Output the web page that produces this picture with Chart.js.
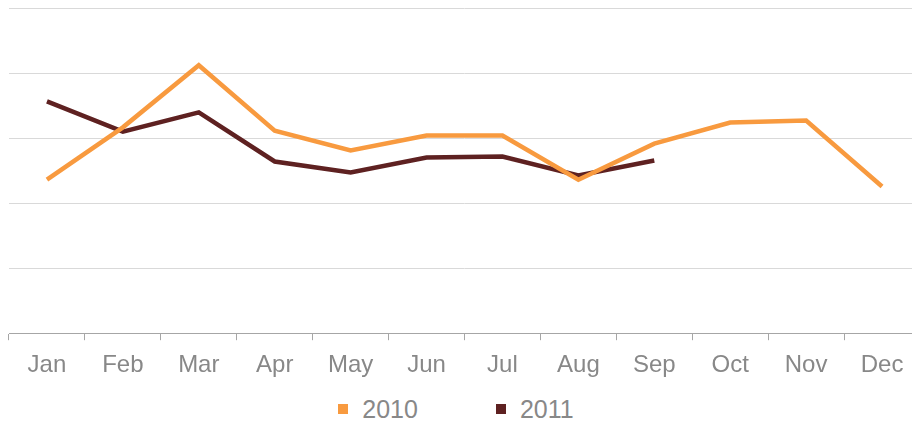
<!DOCTYPE html>
<html>
<head>
<meta charset="utf-8">
<script src="https://cdn.jsdelivr.net/npm/chart.js@4/dist/chart.umd.min.js"></script>
<style>
  html, body { margin: 0; padding: 0; background: #fff; overflow: hidden; }
  body { width: 912px; height: 423px; position: relative; font-family: "Liberation Sans", Arial, sans-serif; }
  #wrap { position: absolute; left: 0; top: 0; width: 920px; height: 392px; }
  #legend { position: absolute; left: 0; top: 395px; width: 912px; text-align: center; font-size: 25px; line-height: 28px; color: #888; }
  #legend span.item { display: inline-block; margin: 0 39px; }
  #legend span.box { display: inline-block; width: 10px; height: 10px; margin-right: 14px; vertical-align: 4px; }
</style>
</head>
<body>
<div id="wrap"><canvas id="chart" width="920" height="392"></canvas></div>
<div id="legend"></div>
<script>
// month labels along the x axis
const months = ["Jan", "Feb", "Mar", "Apr", "May", "Jun", "Jul", "Aug", "Sep", "Oct", "Nov", "Dec"];

// values (no y labels shown, so scale is 0-100)
const series2010 = [47.2, 63.3, 82.4, 62.3, 56.2, 60.8, 60.8, 47.2, 58.3, 64.8, 65.4, 45.1];
const series2011 = [71.3, 62.0, 67.9, 52.8, 49.4, 54.0, 54.3, 48.5, 53.1];

const seriesNames = ["2010", "2011"];
const seriesColors = ["#f89a3f", "#5e2121"];

const ctx = document.getElementById("chart");

new Chart(ctx, {
    type: "line",
    data: {
        labels: months,
        datasets: [
            {
                label: seriesNames[0],
                data: series2010,
                borderColor: seriesColors[0],
                backgroundColor: seriesColors[0],
                borderWidth: 4.5,
                pointRadius: 0,
                tension: 0
            },
            {
                label: seriesNames[1],
                data: series2011,
                borderColor: seriesColors[1],
                backgroundColor: seriesColors[1],
                borderWidth: 4.5,
                pointRadius: 0,
                tension: 0
            }
        ]
    },
    options: {
        responsive: false,
        animation: false,
        layout: { padding: { left: 9, right: 0, top: 8, bottom: 1 } },
        plugins: {
            legend: { display: false },
            tooltip: { enabled: false }
        },
        scales: {
            x: {
                offset: true,
                grid: {
                    offset: true,
                    drawOnChartArea: false,
                    drawTicks: true,
                    tickLength: 7,
                    color: "#a6a6a6"
                },
                border: { color: "#a6a6a6", width: 1 },
                ticks: {
                    color: "#888888",
                    padding: 11,
                    font: { family: "Liberation Sans", size: 24 },
                    maxRotation: 0,
                    autoSkip: false
                }
            },
            y: {
                min: 0,
                max: 100,
                ticks: { display: false, stepSize: 20 },
                grid: { color: "#d9d9d9", lineWidth: 1, drawTicks: false },
                border: { display: false }
            }
        }
    }
});

// simple legend under the chart
const legend = document.getElementById("legend");
seriesNames.forEach((name, i) => {
    const item = document.createElement("span");
    item.className = "item";
    const box = document.createElement("span");
    box.className = "box";
    box.style.background = seriesColors[i];
    item.appendChild(box);
    item.appendChild(document.createTextNode(name));
    legend.appendChild(item);
});
</script>
</body>
</html>
